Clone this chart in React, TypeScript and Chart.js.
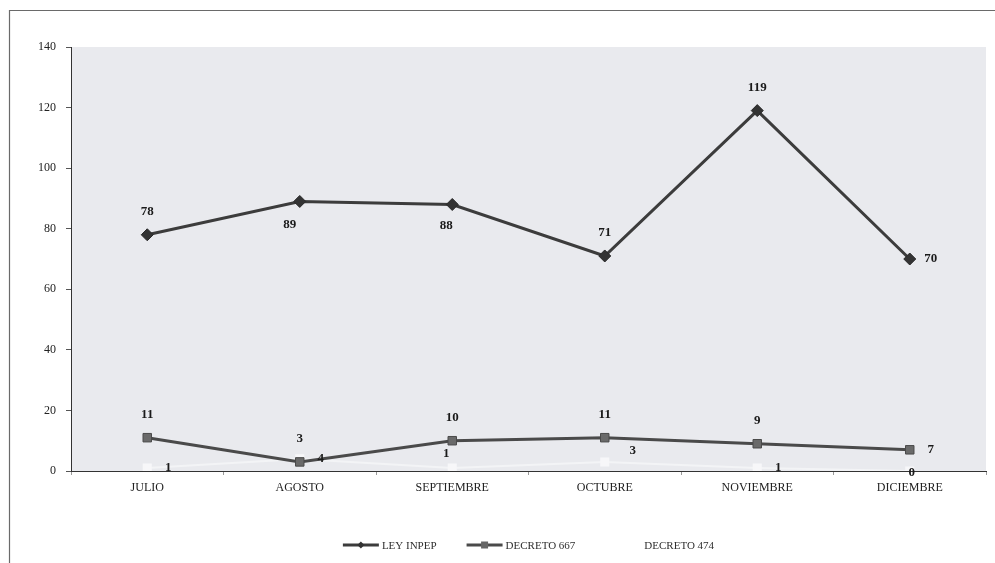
import React, { useEffect, useRef } from "react";
import { Chart, registerables } from "chart.js";

Chart.register(...registerables);

const categories = ["JULIO", "AGOSTO", "SEPTIEMBRE", "OCTUBRE", "NOVIEMBRE", "DICIEMBRE"];
const leyInpep = [78, 89, 88, 71, 119, 70];
const decreto667 = [11, 3, 10, 11, 9, 7];
const decreto474 = [1, 4, 1, 3, 1, 0];
const yTicks = [0, 20, 40, 60, 80, 100, 120, 140];
const seriesNames = ["LEY INPEP", "DECRETO 667", "DECRETO 474"];

// label placement keywords per point
const leyInpepLabelPos = ["top", "bottomleft", "bottom", "top", "top", "right"];
const decreto667LabelPos = ["top", "top", "top", "top", "top", "right"];
const decreto474LabelPos = ["right", "right", "topnear", "upright", "right", "center"];

const FONT = "'Liberation Serif', 'DejaVu Serif', serif";

const offsets: Record<string, [number, number]> = {
  top: [0, -23],
  topnear: [-6, -14],
  bottom: [-6, 21],
  bottomleft: [-10, 23],
  right: [21, 0],
  upright: [28, -11],
  center: [2, 2],
};

const framePlugin = {
  id: "frame",
  beforeDraw(chart: any) {
    const { ctx, chartArea } = chart;
    ctx.save();
    ctx.fillStyle = "#ffffff";
    ctx.fillRect(0, 0, chart.width, chart.height);
    ctx.strokeStyle = "#6a6a6a";
    ctx.lineWidth = 1.2;
    ctx.beginPath();
    ctx.moveTo(9.5, chart.height);
    ctx.lineTo(9.5, 10.5);
    ctx.lineTo(chart.width, 10.5);
    ctx.stroke();
    ctx.fillStyle = "#e9eaee";
    ctx.fillRect(chartArea.left, chartArea.top, chartArea.right - chartArea.left, chartArea.bottom - chartArea.top);
    ctx.restore();
  },
};

const labelPlugin = {
  id: "valueLabels",
  afterDatasetsDraw(chart: any) {
    const { ctx } = chart;
    const posSets = [leyInpepLabelPos, decreto667LabelPos, decreto474LabelPos];
    ctx.save();
    ctx.font = `bold 13px ${FONT}`;
    ctx.fillStyle = "#1a1a1a";
    ctx.textAlign = "center";
    ctx.textBaseline = "middle";
    chart.data.datasets.forEach((ds: any, i: number) => {
      const meta = chart.getDatasetMeta(i);
      meta.data.forEach((pt: any, j: number) => {
        const off = offsets[posSets[i][j]];
        ctx.fillText(String(ds.data[j]), pt.x + off[0], pt.y + off[1]);
      });
    });
    ctx.restore();
  },
};

const legendPlugin = {
  id: "customLegend",
  afterDraw(chart: any) {
    const { ctx, chartArea } = chart;
    ctx.save();
    ctx.font = `11px ${FONT}`;
    ctx.textBaseline = "middle";
    const y = 545;
    const sample = 36;
    const gap = 3;
    const spacing = 30;
    const widths = seriesNames.map((n) => sample + gap + ctx.measureText(n).width);
    const total = widths.reduce((a, b) => a + b, 0) + spacing * (widths.length - 1);
    let x = (chartArea.left + chartArea.right) / 2 - total / 2;
    const styles = [
      { color: "#3c3c3c", marker: "diamond" },
      { color: "#4a4a4a", marker: "square" },
      { color: "#ffffff", marker: "none" },
    ];
    seriesNames.forEach((n, i) => {
      const st = styles[i];
      ctx.strokeStyle = st.color;
      ctx.lineWidth = 3;
      ctx.beginPath();
      ctx.moveTo(x, y);
      ctx.lineTo(x + sample, y);
      ctx.stroke();
      const cx = x + sample / 2;
      if (st.marker === "diamond") {
        ctx.fillStyle = "#333";
        ctx.beginPath();
        ctx.moveTo(cx, y - 3.5);
        ctx.lineTo(cx + 3.5, y);
        ctx.lineTo(cx, y + 3.5);
        ctx.lineTo(cx - 3.5, y);
        ctx.closePath();
        ctx.fill();
      } else if (st.marker === "square") {
        ctx.fillStyle = "#666";
        ctx.fillRect(cx - 3.5, y - 3.5, 7, 7);
      }
      ctx.fillStyle = "#2e2e2e";
      ctx.textAlign = "left";
      ctx.fillText(n, x + sample + gap, y + 1);
      x += widths[i] + spacing;
    });
    ctx.restore();
  },
};

export default function App() {
  const ref = useRef<HTMLCanvasElement | null>(null);
  useEffect(() => {
    if (!ref.current) return;
    const chart = new Chart(ref.current, {
      type: "line",
      data: {
        labels: categories,
        datasets: [
          {
            label: seriesNames[0],
            data: leyInpep,
            borderColor: "#3c3c3c",
            borderWidth: 3,
            pointStyle: "rectRot",
            pointRadius: 6,
            pointBackgroundColor: "#333",
            pointBorderColor: "#2a2a2a",
            pointBorderWidth: 1,
            tension: 0,
          },
          {
            label: seriesNames[1],
            data: decreto667,
            borderColor: "#4a4a4a",
            borderWidth: 3,
            pointStyle: "rect",
            pointRadius: 6,
            pointBackgroundColor: "#6a6a6a",
            pointBorderColor: "#4a4a4a",
            pointBorderWidth: 1,
            tension: 0,
          },
          {
            label: seriesNames[2],
            data: decreto474,
            borderColor: "#f3f4f6",
            borderWidth: 2,
            pointStyle: "rect",
            pointRadius: 5,
            pointBackgroundColor: "#f7f7f9",
            pointBorderColor: "#f7f7f9",
            tension: 0,
          },
        ],
      },
      options: {
        animation: false,
        responsive: false,
        layout: { padding: { left: 0, right: 9, top: 47, bottom: 62 } },
        plugins: { legend: { display: false }, tooltip: { enabled: false } },
        scales: {
          x: {
            offset: true,
            grid: { display: true, offset: true, drawOnChartArea: false, tickLength: 4, color: "#999" },
            border: { display: true, color: "#333", width: 1 },
            ticks: { color: "#222", font: { family: FONT, size: 12 }, padding: 6 },
            afterFit: (s: any) => { s.height = 30; },
          },
          y: {
            min: 0,
            max: 140,
            afterBuildTicks: (s: any) => { s.ticks = yTicks.map((v) => ({ value: v })); },
            grid: { display: true, drawOnChartArea: false, tickLength: 5, color: "#555" },
            border: { display: true, color: "#333", width: 1 },
            ticks: { color: "#222", font: { family: FONT, size: 12 }, padding: 10 },
            afterFit: (s: any) => { s.width = 71; },
          },
        },
      },
      plugins: [framePlugin, labelPlugin, legendPlugin],
    });
    return () => chart.destroy();
  }, []);
  return (
    <div style={{ position: "fixed", left: 0, top: 0, width: 995, height: 563, background: "#fff" }}>
      <canvas ref={ref} width={995} height={563} style={{ display: "block" }} />
    </div>
  );
}
